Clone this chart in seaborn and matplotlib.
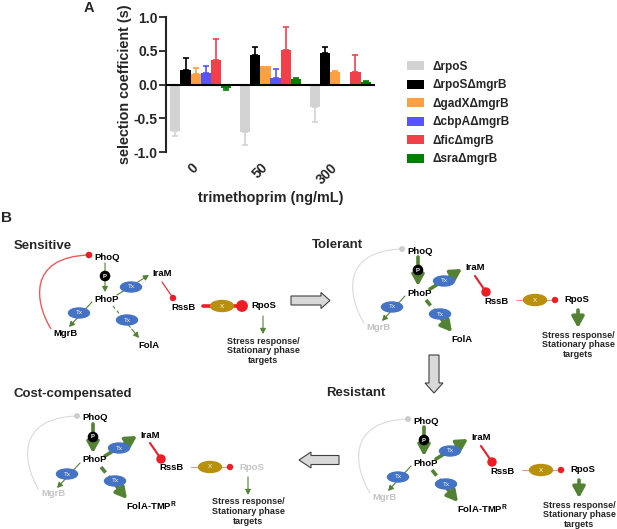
import matplotlib
matplotlib.use("Agg")
import matplotlib.pyplot as plt
import matplotlib.transforms as mtransforms
import seaborn as sns
import pandas as pd
from matplotlib.patches import Ellipse, Circle, FancyArrowPatch, FancyArrow, PathPatch
from matplotlib.path import Path

# ---------------- data (panel A) ----------------
doses = ["0", "50", "300"]
strains = ["\u0394rpoS", "\u0394rpoS\u0394mgrB", "\u0394gadX\u0394mgrB",
           "\u0394cbpA\u0394mgrB", "\u0394fic\u0394mgrB", "\u0394sra\u0394mgrB"]
rpoS = [-0.69, -0.71, -0.33]
rpoS_mgrB = [0.22, 0.43, 0.47]
gadX_mgrB = [0.15, 0.27, 0.18]
cbpA_mgrB = [0.17, 0.09, -0.02]
fic_mgrB = [0.37, 0.51, 0.19]
sra_mgrB = [-0.045, 0.085, 0.03]
rpoS_err = [0.07, 0.18, 0.23]
rpoS_mgrB_err = [0.18, 0.13, 0.09]
gadX_mgrB_err = [0.10, 0.0, 0.02]
cbpA_mgrB_err = [0.10, 0.14, 0.0]
fic_mgrB_err = [0.30, 0.34, 0.25]
sra_mgrB_err = [0.04, 0.015, 0.015]
colors = ["#D3D3D3", "#000000", "#FFA040", "#5555FF", "#F2404A", "#008000"]

values = [rpoS, rpoS_mgrB, gadX_mgrB, cbpA_mgrB, fic_mgrB, sra_mgrB]
errors = [rpoS_err, rpoS_mgrB_err, gadX_mgrB_err, cbpA_mgrB_err, fic_mgrB_err, sra_mgrB_err]
rows = []
for s, vals in zip(strains, values):
    for d, v in zip(doses, vals):
        rows.append({"dose": d, "strain": s, "value": v})
df = pd.DataFrame(rows)

sns.set_style("ticks")
FONT = ["Liberation Sans", "DejaVu Sans"]
plt.rcParams["font.family"] = FONT
plt.rcParams["axes.unicode_minus"] = False
plt.rcParams["mathtext.fontset"] = "custom"
plt.rcParams["mathtext.rm"] = "Liberation Sans"
plt.rcParams["mathtext.bf"] = "Liberation Sans:bold"

W, H = 617, 529
fig = plt.figure(figsize=(W / 100, H / 100), dpi=100)

# background axes in pixel coordinates for panel B
bg = fig.add_axes([0, 0, 1, 1])
bg.set_xlim(0, W)
bg.set_ylim(H, 0)
bg.axis("off")

# ---------------- panel A ----------------
ax = fig.add_axes([166 / W, 1 - 152 / H, 209 / W, 135 / H])
sns.barplot(data=df, x="dose", y="value", hue="strain", order=doses, hue_order=strains,
            palette=colors, errorbar=None, width=0.88, linewidth=0, saturation=1, ax=ax)
for cont, errs, col in zip(ax.containers, errors, colors):
    for bar, e in zip(cont, errs):
        h = bar.get_height()
        xc = bar.get_x() + bar.get_width() / 2
        if e <= 0:
            continue
        yerr = [[0], [e]] if h >= 0 else [[e], [0]]
        ax.errorbar(xc, h, yerr=yerr, fmt="none", ecolor=col, elinewidth=1.2,
                    capsize=2, capthick=1.2, zorder=3)
ax.set_ylim(-1, 1)
ax.set_xlim(-0.5, 2.5)
ax.set_yticks([-1, -0.5, 0, 0.5, 1])
ax.set_yticklabels(["-1.0", "-0.5", "0.0", "0.5", "1.0"], fontweight="bold", fontsize=10)
ax.set_xticks(range(len(doses)))
ax.set_xticklabels(doses, rotation=45, ha="right", fontweight="bold", fontsize=10)
shift = mtransforms.ScaledTranslation(0.07, 0, fig.dpi_scale_trans)
for lab in ax.get_xticklabels():
    lab.set_transform(lab.get_transform() + shift)
ax.tick_params(axis="x", length=0, pad=6)
ax.tick_params(axis="y", length=5, width=1.3, pad=1)
for sp in ["top", "right", "bottom"]:
    ax.spines[sp].set_visible(False)
ax.spines["left"].set_linewidth(1.5)
ax.axhline(0, color="black", lw=1.5, zorder=4)
ax.set_ylabel("selection coefficient (s)", fontweight="bold", fontsize=10.4)
ax.yaxis.set_label_coords(-0.163, 0.5)
ax.set_xlabel("trimethoprim (ng/mL)", fontweight="bold", fontsize=10.4)
ax.xaxis.set_label_coords(0.5, -0.29)
handles, labels = ax.get_legend_handles_labels()
ax.legend(handles, labels, loc="upper left", bbox_to_anchor=(407 / W, 1 - 61 / H),
          bbox_transform=fig.transFigure, frameon=False,
          prop=dict(family=FONT, weight="bold", size=8.5),
          handlelength=1.4, handleheight=0.8, handletextpad=0.8, labelspacing=0.55,
          borderpad=0, borderaxespad=0)

fig.text(89 / W, 1 - 8 / H, "A", fontsize=10.5, fontweight="bold", ha="center", va="center")
fig.text(6 / W, 1 - 218 / H, "B", fontsize=11, fontweight="bold", ha="center", va="center")

# ---------------- panel B (diagram) ----------------
GREEN = "#548235"
GRAY = "#C4C4C4"
RED = "#EE1C25"
BLUE = "#4472C4"
GOLD = "#B8900C"


def txt(x, y, s, color="black", ha="left", size=6.8):
    bg.text(x, y, s, ha=ha, va="center", fontsize=size, fontweight="bold", color=color, zorder=6)


def arr(p0, p1, thick=False, dashed=False):
    if thick:
        style = "-|>,head_length=0.65,head_width=0.36"
        lw = 2.6
    else:
        style = "-|>,head_length=0.32,head_width=0.17"
        lw = 0.8
    if dashed:
        fx = p0[0] + (p1[0] - p0[0]) * 0.72
        fy = p0[1] + (p1[1] - p0[1]) * 0.72
        bg.plot([p0[0], fx], [p0[1], fy], color=GREEN, lw=lw,
                dashes=(2, 1.3) if thick else (3, 2.5), zorder=3, solid_capstyle="butt")
        p0 = (fx, fy)
    bg.add_patch(FancyArrowPatch(p0, p1, arrowstyle=style, mutation_scale=10, lw=lw,
                                 color=GREEN, shrinkA=0, shrinkB=0, zorder=3))


def tx(p):
    bg.add_patch(Ellipse(p, 21, 10, color=BLUE, zorder=5))
    bg.text(p[0], p[1], "Tx", ha="center", va="center", fontsize=4.5, color="white", zorder=6)


def net(ox, oy, state, title, tx0, ty0, sx=174):
    P = lambda dx, dy: (ox + dx, oy + dy)
    sens = state == "sens"
    thick = not sens
    bg.text(tx0, ty0, title, ha="left", va="center", fontsize=9.5, fontweight="bold")
    verts = [P(-38, 74), P(-54, 48), P(-62, 2), P(0, 0)]
    path = Path(verts, [Path.MOVETO, Path.CURVE4, Path.CURVE4, Path.CURVE4])
    bg.add_patch(PathPatch(path, fc="none", ec="#F05A5A" if sens else "#DADADA",
                           lw=1.0 if sens else 0.8, zorder=2))
    bg.add_patch(Circle(P(0, 0), 2.6 if sens else 2.2, color=RED if sens else "#CCCCCC", zorder=4))
    txt(*P(5, 2), "PhoQ")
    arr(P(16, 8), P(16, 37), thick)
    bg.add_patch(Circle(P(16, 21), 4.6, color="black", zorder=5))
    bg.text(*P(16, 21), "P", ha="center", va="center", fontsize=4.3, fontweight="bold",
            color="white", zorder=6)
    txt(*P(5, 44), "PhoP")
    arr(P(28, 40), P(60, 20), thick)
    tx(P(42, 32))
    txt(*P(63, 19), "IraM")
    # IraM -| RssB
    a, b = P(73, 27), P(84, 43)
    bg.plot([a[0], b[0]], [a[1], b[1]], color=RED, lw=0.8 if sens else 1.5, zorder=3)
    bg.add_patch(Circle(b, 2.5 if sens else 4, color=RED, zorder=4))
    txt(*P(82, 52), "RssB")
    # RssB - X -| RpoS
    a, b = P(114, 51), P(153, 51)
    if sens:
        bg.plot([a[0], b[0]], [a[1], b[1]], color=RED, lw=2.6, zorder=3)
        bg.add_patch(Circle(b, 5.2, color=RED, zorder=4))
    else:
        bg.plot([a[0], b[0]], [a[1], b[1]], color="#F28C8C", lw=0.7, zorder=3)
        bg.add_patch(Circle(b, 2.5, color=RED, zorder=4))
    bg.add_patch(Ellipse(P(133, 51), 23, 11, color=GOLD, zorder=5))
    bg.text(*P(133, 51), "X", ha="center", va="center", fontsize=4.5, color="white", zorder=6)
    txt(*P(162, 51), "RpoS", color=GRAY if state == "cost" else "black")
    arr(P(sx, 61), P(sx, 79), state in ("tol", "res"))
    bg.text(*P(sx, 81.5), "Stress response/\nStationary phase\ntargets", ha="center", va="top",
            fontsize=6.5, fontweight="bold", linespacing=1.1)
    # MgrB branch
    arr(P(3, 47), P(-20, 72), False)
    tx(P(-10, 58))
    txt(*P(-24, 78), "MgrB", color="black" if sens else GRAY, ha="center")
    # FolA branch
    arr(P(24, 51), P(50, 83), thick, dashed=True)
    tx(P(38, 65))
    label = "FolA" if state in ("sens", "tol") else r"FolA-TMP$^{\mathbf{R}}$"
    txt(*P(49, 90), label)


net(89, 255, "sens", "Sensitive", 14, 246, sx=174)
net(402, 249, "tol", "Tolerant", 312, 245, sx=176)
net(408, 419, "res", "Resistant", 326, 393, sx=171)
net(77, 416, "cost", "Cost-compensated", 14, 394, sx=171)

# block arrows between states
kw = dict(length_includes_head=True, fc="#D9D9D9", ec="#404040", lw=0.8, zorder=2)
bg.add_patch(FancyArrow(291, 300.5, 39, 0, width=9, head_width=16, head_length=9, **kw))
bg.add_patch(FancyArrow(434, 355, 0, 38, width=10, head_width=18, head_length=10, **kw))
bg.add_patch(FancyArrow(339, 460, -40, 0, width=9, head_width=16, head_length=12, **kw))

fig.savefig("out.png", dpi=100)
